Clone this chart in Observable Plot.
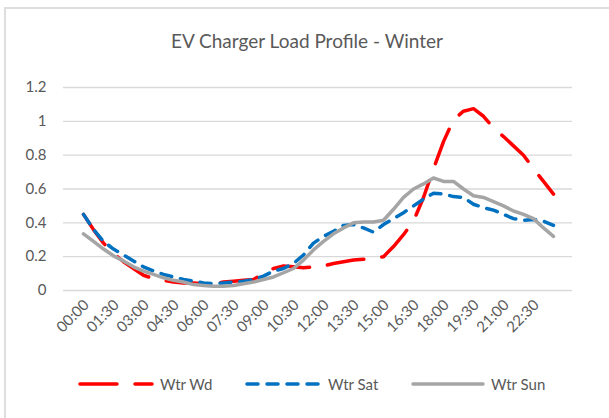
<!DOCTYPE html>
<html>
<head>
<meta charset="utf-8">
<script src="https://cdn.jsdelivr.net/npm/d3@7"></script>
<script src="https://cdn.jsdelivr.net/npm/@observablehq/plot@0.6"></script>
<style>
  html, body { margin: 0; padding: 0; background: #fff; }
  #wrap { position: relative; width: 609px; height: 418px; overflow: hidden; background: #fff; font-family: Lato, "Open Sans", sans-serif; color: #595959; }
  #frame { position: absolute; left: 4px; top: 7px; width: 800px; height: 600px; border-left: 2px solid #dedede; border-top: 2px solid #dedede; }
  #title { position: absolute; left: 0; top: 31px; width: 614px; text-align: center; font-size: 19px; line-height: 19px; }
  #chart { position: absolute; left: 0; top: 0; }
  .leg { position: absolute; top: 374px; height: 20px; display: flex; align-items: center; font-size: 15px; }
  .leg svg { display: block; margin-right: 6px; }
</style>
</head>
<body>
<div id="wrap">
  <div id="frame"></div>
  <div id="title">EV Charger Load Profile - Winter</div>
  <div id="chart"></div>
</div>
<script>
const times = ["00:00","00:30","01:00","01:30","02:00","02:30","03:00","03:30","04:00","04:30","05:00","05:30",
  "06:00","06:30","07:00","07:30","08:00","08:30","09:00","09:30","10:00","10:30","11:00","11:30",
  "12:00","12:30","13:00","13:30","14:00","14:30","15:00","15:30","16:00","16:30","17:00","17:30",
  "18:00","18:30","19:00","19:30","20:00","20:30","21:00","21:30","22:00","22:30","23:00","23:30"];
const xTicks = ["00:00","01:30","03:00","04:30","06:00","07:30","09:00","10:30","12:00","13:30","15:00","16:30","18:00","19:30","21:00","22:30"];
const yTicks = [0, 0.2, 0.4, 0.6, 0.8, 1, 1.2];

const wtrWd = [0.45,0.36,0.28,0.22,0.17,0.13,0.09,0.07,0.06,0.05,0.045,0.045,
  0.04,0.04,0.05,0.055,0.06,0.065,0.10,0.13,0.145,0.14,0.135,0.14,
  0.145,0.16,0.17,0.18,0.185,0.19,0.20,0.26,0.33,0.41,0.55,0.72,
  0.88,1.01,1.06,1.075,1.03,0.96,0.91,0.855,0.80,0.72,0.645,0.57];
const wtrSat = [0.45,0.36,0.29,0.245,0.21,0.175,0.14,0.115,0.095,0.08,0.065,0.055,
  0.045,0.04,0.045,0.05,0.055,0.065,0.085,0.115,0.13,0.16,0.21,0.28,
  0.32,0.35,0.385,0.39,0.37,0.345,0.39,0.425,0.46,0.50,0.54,0.575,
  0.57,0.555,0.55,0.51,0.49,0.475,0.45,0.425,0.415,0.42,0.41,0.385];
const wtrSun = [0.335,0.29,0.245,0.205,0.175,0.14,0.115,0.095,0.075,0.06,0.05,0.035,
  0.03,0.025,0.025,0.03,0.04,0.05,0.065,0.08,0.105,0.13,0.18,0.24,
  0.29,0.335,0.37,0.40,0.405,0.405,0.415,0.48,0.55,0.60,0.63,0.665,
  0.645,0.645,0.60,0.56,0.55,0.525,0.50,0.47,0.45,0.425,0.37,0.32];

const seriesNames = ["Wtr Wd", "Wtr Sat", "Wtr Sun"];
const seriesValues = [wtrWd, wtrSat, wtrSun];
const seriesColors = ["#ff0000", "#0070c0", "#a5a5a5"];
const seriesDash = ["37,18", "11,9", null];

const rows = (vals) => vals.map((v, i) => ({t: times[i], v}));

const lineMarks = seriesValues.map((vals, k) =>
  Plot.line(rows(vals), {
    x: "t", y: "v", stroke: seriesColors[k], strokeWidth: 3.5,
    strokeDasharray: seriesDash[k] || undefined,
    strokeLinecap: "round", strokeLinejoin: "round"
  })
);

const chart = Plot.plot({
  width: 609, height: 360,
  marginLeft: 63, marginRight: 37, marginTop: 87, marginBottom: 70,
  style: {fontFamily: "Lato, 'Open Sans', sans-serif", fontSize: "15px", color: "#595959", background: "transparent", overflow: "visible"},
  x: {type: "point", domain: times, padding: 0.5, label: null},
  y: {domain: [0, 1.2], label: null},
  marks: [
    Plot.gridY(yTicks, {stroke: "#d9d9d9", strokeOpacity: 1, strokeWidth: 1.4}),
    Plot.axisY(yTicks, {tickSize: 0, tickPadding: 17, tickFormat: d => String(d), fill: "#595959"}),
    Plot.axisX(xTicks, {tickSize: 0, tickPadding: 12, tickRotate: -45, fill: "#595959", dx: 3}),
    ...lineMarks
  ]
});
document.getElementById("chart").appendChild(chart);

// legend
const legLeft = [78, 245, 411];
const legW = [72, 73, 70];
const wrap = document.getElementById("wrap");
seriesNames.forEach((name, k) => {
  const item = document.createElement("div");
  item.className = "leg";
  item.style.left = legLeft[k] + "px";
  const svg = d3.create("svg").attr("width", legW[k] + 4).attr("height", 10);
  svg.append("line")
    .attr("x1", 2).attr("x2", legW[k] + 2).attr("y1", 5).attr("y2", 5)
    .attr("stroke", seriesColors[k]).attr("stroke-width", 3.5)
    .attr("stroke-linecap", "round")
    .attr("stroke-dasharray", seriesDash[k]);
  item.appendChild(svg.node());
  const span = document.createElement("span");
  span.textContent = name;
  item.appendChild(span);
  wrap.appendChild(item);
});
</script>
</body>
</html>
